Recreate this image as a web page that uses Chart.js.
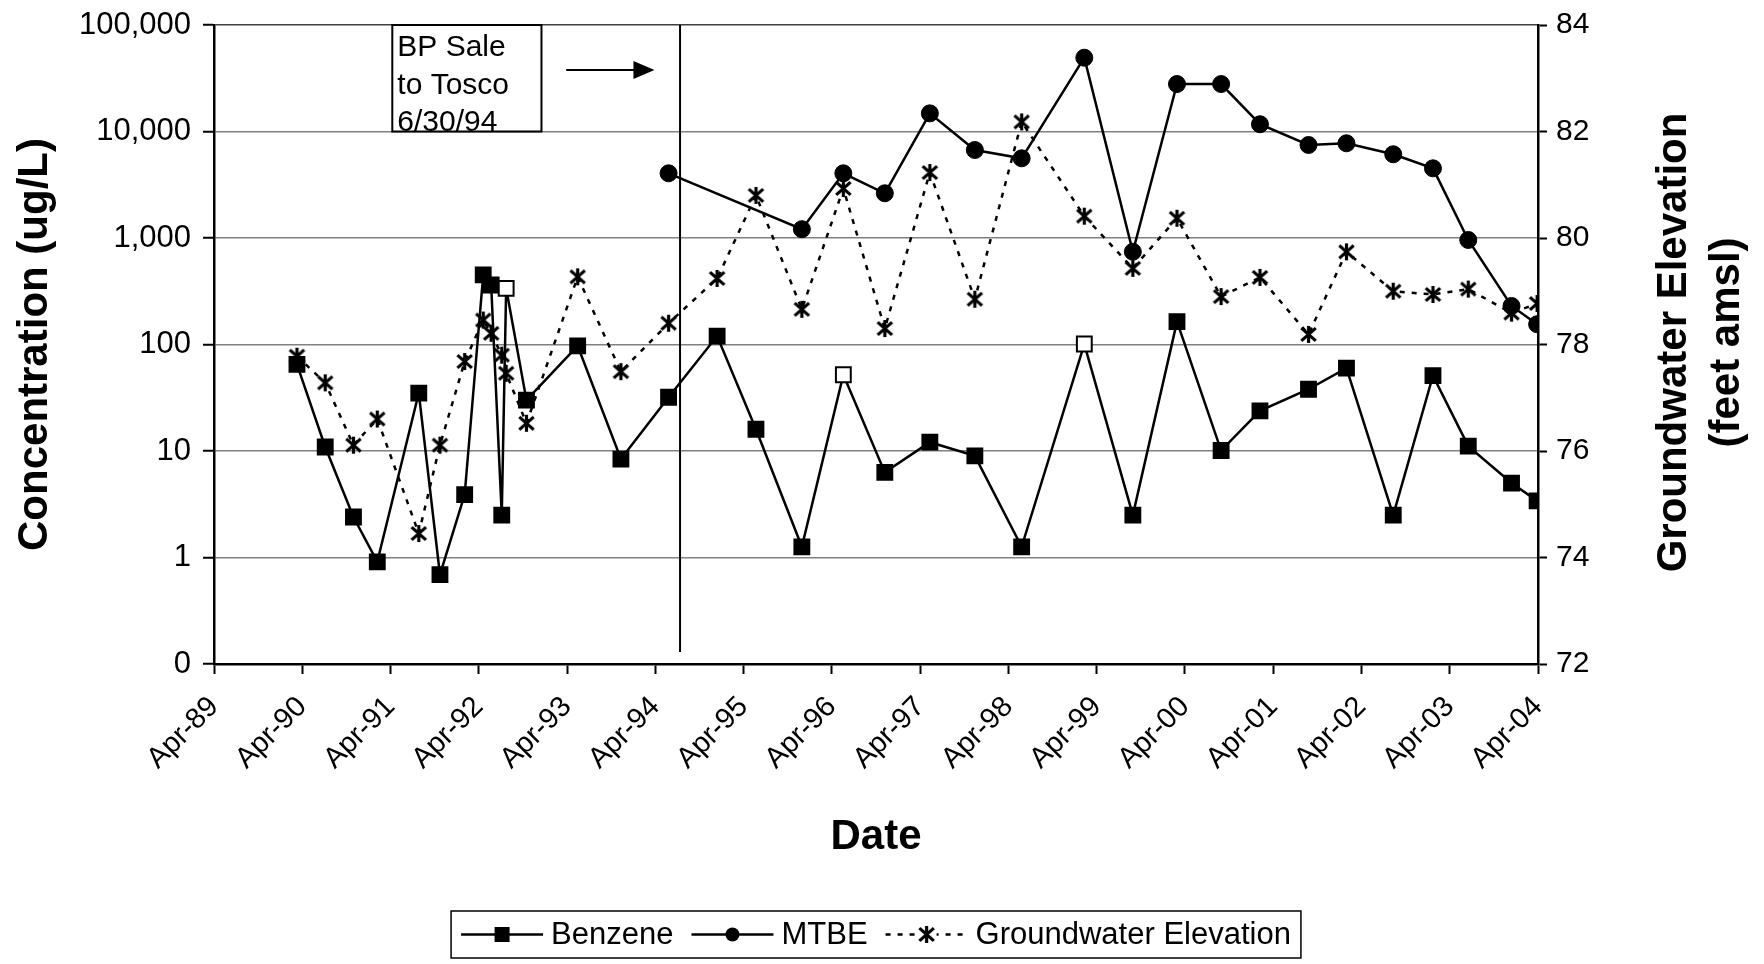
<!DOCTYPE html>
<html>
<head>
<meta charset="utf-8">
<title>Benzene, MTBE and Groundwater Elevation</title>
<script src="https://cdn.jsdelivr.net/npm/chart.js"></script>
<style>
  html, body { margin: 0; padding: 0; background: #fff; }
  #wrap { width: 1764px; height: 964px; }
</style>
</head>
<body>
<div id="wrap"><canvas id="gwChart" width="1764" height="964"></canvas></div>
<script>
/**
 * 1. DATA
 */
// sample dates as decimal years
const sampleDates = [
    1990.19, 1990.51, 1990.83, 1991.10, 1991.57, 1991.81, 1992.09, 1992.30, 1992.39, 1992.51,
    1992.56, 1992.79, 1993.37, 1993.86, 1994.40, 1994.95, 1995.39, 1995.91, 1996.38, 1996.85,
    1997.36, 1997.87, 1998.40, 1999.11, 1999.66, 2000.16, 2000.66, 2001.10, 2001.65, 2002.08,
    2002.61, 2003.06, 2003.46, 2003.95, 2004.24
];
const benzene = [
    65, 10.9, 2.4, 0.91, 35, 0.69, 3.9, 450, 362, 2.5,
    337, 30, 97, 8.4, 32, 120, 16, 1.26, 52, 6.3,
    12.1, 9.0, 1.26, 101, 2.5, 164, 10.1, 23.8, 38, 60,
    2.5, 51, 11.1, 5.0, 3.4
];
const mtbe = [
    null, null, null, null, null, null, null, null, null, null,
    null, null, null, null, 4050, null, null, 1210, 4050, 2630,
    14800, 6700, 5600, 49300, 743, 27900, 27900, 11700, 7470, 7750,
    6110, 4510, 958, 230, 155
];
const gwElevation = [
    77.78, 77.28, 76.11, 76.60, 74.45, 76.11, 77.68, 78.46, 78.21, 77.80,
    77.46, 76.52, 79.27, 77.49, 78.40, 79.24, 80.80, 78.66, 80.93, 78.30,
    81.23, 78.85, 82.18, 80.41, 79.43, 80.37, 78.90, 79.26, 78.19, 79.74,
    79.00, 78.94, 79.04, 78.59, 78.77
];
// benzene results drawn as hollow squares
const openSquares = [10, 18, 23];

const concTicks = [0.1, 1, 10, 100, 1000, 10000, 100000];
const elevTicks = [72, 74, 76, 78, 80, 82, 84];
const xTickLabels = ['Apr-89', 'Apr-90', 'Apr-91', 'Apr-92', 'Apr-93', 'Apr-94', 'Apr-95', 'Apr-96',
                     'Apr-97', 'Apr-98', 'Apr-99', 'Apr-00', 'Apr-01', 'Apr-02', 'Apr-03', 'Apr-04'];
const xTickYears = xTickLabels.map((_, i) => 1989.25 + i);

const saleDate = 1994.53;
const saleNote = ['BP Sale', 'to Tosco', '6/30/94'];
const elevTitle = ['Groundwater Elevation', '(feet amsl)'];

/**
 * 2. STYLE HELPERS
 */
const FONT = '"Liberation Sans", Arial, Helvetica, sans-serif';
Chart.defaults.font.family = FONT;
Chart.defaults.color = '#000';

// asterisk marker like the spreadsheet one
function makeAsterisk(size, lw) {
    const c = document.createElement('canvas');
    c.width = c.height = size;
    const g = c.getContext('2d');
    const m = size / 2, r = size / 2 - 1;
    g.strokeStyle = '#000';
    g.lineWidth = lw;
    g.beginPath();
    g.moveTo(m, m - r); g.lineTo(m, m + r);
    g.moveTo(m - r * 0.85, m - r * 0.75); g.lineTo(m + r * 0.85, m + r * 0.75);
    g.moveTo(m + r * 0.85, m - r * 0.75); g.lineTo(m - r * 0.85, m + r * 0.75);
    g.stroke();
    return c;
}
const asterisk = makeAsterisk(19, 3.2);

const pts = arr => sampleDates.map((d, i) => ({ x: d, y: arr[i] })).filter(p => p.y !== null);

// keep the plot area where the figure has it
const noEdgePad = s => { s.paddingTop = 0; s.paddingBottom = 0; };

/**
 * 3. PLUGINS: sale marker, note box, right title, boxed legend
 */
const extras = {
    id: 'extras',
    afterDraw(chart) {
        const { ctx, chartArea: area } = chart;
        const xs = chart.scales.x, yc = chart.scales.yConc, ye = chart.scales.yElev;
        ctx.save();

        // vertical line for the sale date
        const sx = xs.getPixelForValue(saleDate);
        ctx.strokeStyle = '#000';
        ctx.lineWidth = 2;
        ctx.beginPath();
        ctx.moveTo(sx, area.top);
        ctx.lineTo(sx, area.bottom - 12);
        ctx.stroke();

        // note box
        const bx0 = xs.getPixelForValue(1991.27), bx1 = xs.getPixelForValue(1992.96);
        const by1 = yc.getPixelForValue(10000);
        ctx.fillStyle = '#fff';
        ctx.fillRect(bx0, area.top, bx1 - bx0, by1 - area.top);
        ctx.lineWidth = 2;
        ctx.strokeRect(bx0, area.top, bx1 - bx0, by1 - area.top);
        ctx.fillStyle = '#000';
        ctx.font = '30px ' + FONT;
        ctx.textAlign = 'left';
        ctx.textBaseline = 'alphabetic';
        saleNote.forEach((t, i) => ctx.fillText(t, bx0 + 5, area.top + 31 + i * 37.5));

        // arrow pointing to the sale line
        const ax0 = xs.getPixelForValue(1993.24), ax1 = xs.getPixelForValue(1994.24);
        const ay = area.top + 45;
        ctx.lineWidth = 2;
        ctx.beginPath();
        ctx.moveTo(ax0, ay);
        ctx.lineTo(ax1 - 18, ay);
        ctx.stroke();
        ctx.beginPath();
        ctx.moveTo(ax1, ay);
        ctx.lineTo(ax1 - 21, ay - 9);
        ctx.lineTo(ax1 - 21, ay + 9);
        ctx.closePath();
        ctx.fill();

        // right axis title, reading bottom to top
        ctx.font = 'bold 42px ' + FONT;
        ctx.textAlign = 'center';
        ctx.textBaseline = 'middle';
        const cy = (area.top + area.bottom) / 2 - 2;
        elevTitle.forEach((t, i) => {
            ctx.save();
            ctx.translate(ye.left + 136 + i * 53, cy);
            ctx.rotate(-Math.PI / 2);
            ctx.fillText(t, 0, 0);
            ctx.restore();
        });

        // boxed legend
        ctx.font = '31px ' + FONT;
        const sample = 82, gapText = 8, gapItem = 18, pad = 10;
        const items = chart.data.datasets.map(ds => ({ ds, w: ctx.measureText(ds.label).width }));
        const total = pad * 2 + items.reduce((s, it) => s + sample + gapText + it.w, 0) + gapItem * (items.length - 1);
        const top = chart.height - 53, h = 47;
        let x = (area.left + area.right) / 2 - total / 2;
        ctx.lineWidth = 1.5;
        ctx.strokeRect(x, top, total, h);
        const ly = top + h / 2;
        x += pad;
        items.forEach(({ ds, w }) => {
            ctx.setLineDash(ds.borderDash || []);
            ctx.lineWidth = 2.5;
            ctx.beginPath();
            ctx.moveTo(x, ly);
            ctx.lineTo(x + sample, ly);
            ctx.stroke();
            ctx.setLineDash([]);
            const mx = x + sample / 2;
            if (ds.pointStyle === 'rect') {
                ctx.fillRect(mx - 7.5, ly - 7.5, 15, 15);
            } else if (ds.pointStyle === 'circle') {
                ctx.beginPath();
                ctx.arc(mx, ly, 7, 0, Math.PI * 2);
                ctx.fill();
            } else {
                ctx.fillStyle = '#fff';
                ctx.fillRect(mx - 10, ly - 10, 20, 20);
                ctx.fillStyle = '#000';
                ctx.drawImage(asterisk, mx - asterisk.width / 2, ly - asterisk.height / 2);
            }
            ctx.textAlign = 'left';
            ctx.fillText(ds.label, x + sample + gapText, ly + 1);
            x += sample + gapText + w + gapItem;
        });
        ctx.restore();
    }
};

/**
 * 4. CHART
 */
const ctx = document.getElementById('gwChart').getContext('2d');
const gwChart = new Chart(ctx, {
    type: 'line',
    data: {
        datasets: [{
            label: 'Benzene',
            data: pts(benzene),
            yAxisID: 'yConc',
            borderColor: '#000',
            borderWidth: 2.5,
            pointStyle: 'rect',
            pointRadius: 10.5,
            pointBorderWidth: 2,
            pointBorderColor: '#000',
            pointBackgroundColor: benzene.map((_, i) => openSquares.includes(i) ? '#fff' : '#000')
        }, {
            label: 'MTBE',
            data: pts(mtbe),
            yAxisID: 'yConc',
            borderColor: '#000',
            borderWidth: 2.5,
            pointStyle: 'circle',
            pointRadius: 8.5,
            pointBorderWidth: 1,
            pointBorderColor: '#000',
            pointBackgroundColor: '#000'
        }, {
            label: 'Groundwater Elevation',
            data: pts(gwElevation),
            yAxisID: 'yElev',
            borderColor: '#000',
            borderWidth: 2.5,
            borderDash: [5, 7],
            pointStyle: asterisk,
            pointRadius: 9
        }]
    },
    options: {
        responsive: false,
        animation: false,
        layout: { padding: { top: 25, bottom: 100, left: 0, right: 0 } },
        elements: { line: { tension: 0 } },
        plugins: {
            legend: { display: false },
            tooltip: { enabled: false }
        },
        scales: {
            x: {
                type: 'linear',
                min: 1989.25,
                max: 2004.25,
                afterBuildTicks: s => { s.ticks = xTickYears.map(v => ({ value: v })); },
                afterFit: s => { s.height = 200; },
                grid: { drawOnChartArea: false, tickLength: 10, tickColor: '#000', tickWidth: 2 },
                border: { color: '#000', width: 2.5 },
                ticks: {
                    autoSkip: false,
                    maxRotation: 45,
                    minRotation: 45,
                    padding: 16,
                    font: { size: 29 },
                    callback: (v, i) => xTickLabels[i]
                },
                title: {
                    display: true,
                    text: 'Date',
                    font: { size: 42, weight: 'bold' },
                    padding: { top: 0, bottom: 1 }
                }
            },
            yConc: {
                type: 'logarithmic',
                position: 'left',
                min: 0.1,
                max: 100000,
                afterBuildTicks: s => { s.ticks = concTicks.map(v => ({ value: v })); },
                afterFit: s => { s.width = 214; noEdgePad(s); },
                grid: {
                    color: c => c.tick && c.tick.value === 100000 ? '#404040' : '#808080',
                    lineWidth: 1.5,
                    tickLength: 11,
                    tickColor: '#000',
                    tickWidth: 2
                },
                border: { color: '#000', width: 2.5 },
                ticks: {
                    padding: 12,
                    font: { size: 31 },
                    callback: v => v === 0.1 ? '0' : v.toLocaleString('en-US')
                },
                title: {
                    display: true,
                    text: 'Concentration (ug/L)',
                    font: { size: 42, weight: 'bold' },
                    padding: { top: 10, bottom: 0 }
                }
            },
            yElev: {
                type: 'linear',
                position: 'right',
                min: 72,
                max: 84,
                afterBuildTicks: s => { s.ticks = elevTicks.map(v => ({ value: v })); },
                afterFit: s => { s.width = 226; noEdgePad(s); },
                grid: { drawOnChartArea: false, tickLength: 9, tickColor: '#000', tickWidth: 2 },
                border: { color: '#000', width: 2.5 },
                ticks: { padding: 9, font: { size: 30 } }
            }
        }
    },
    plugins: [extras]
});
</script>
</body>
</html>
